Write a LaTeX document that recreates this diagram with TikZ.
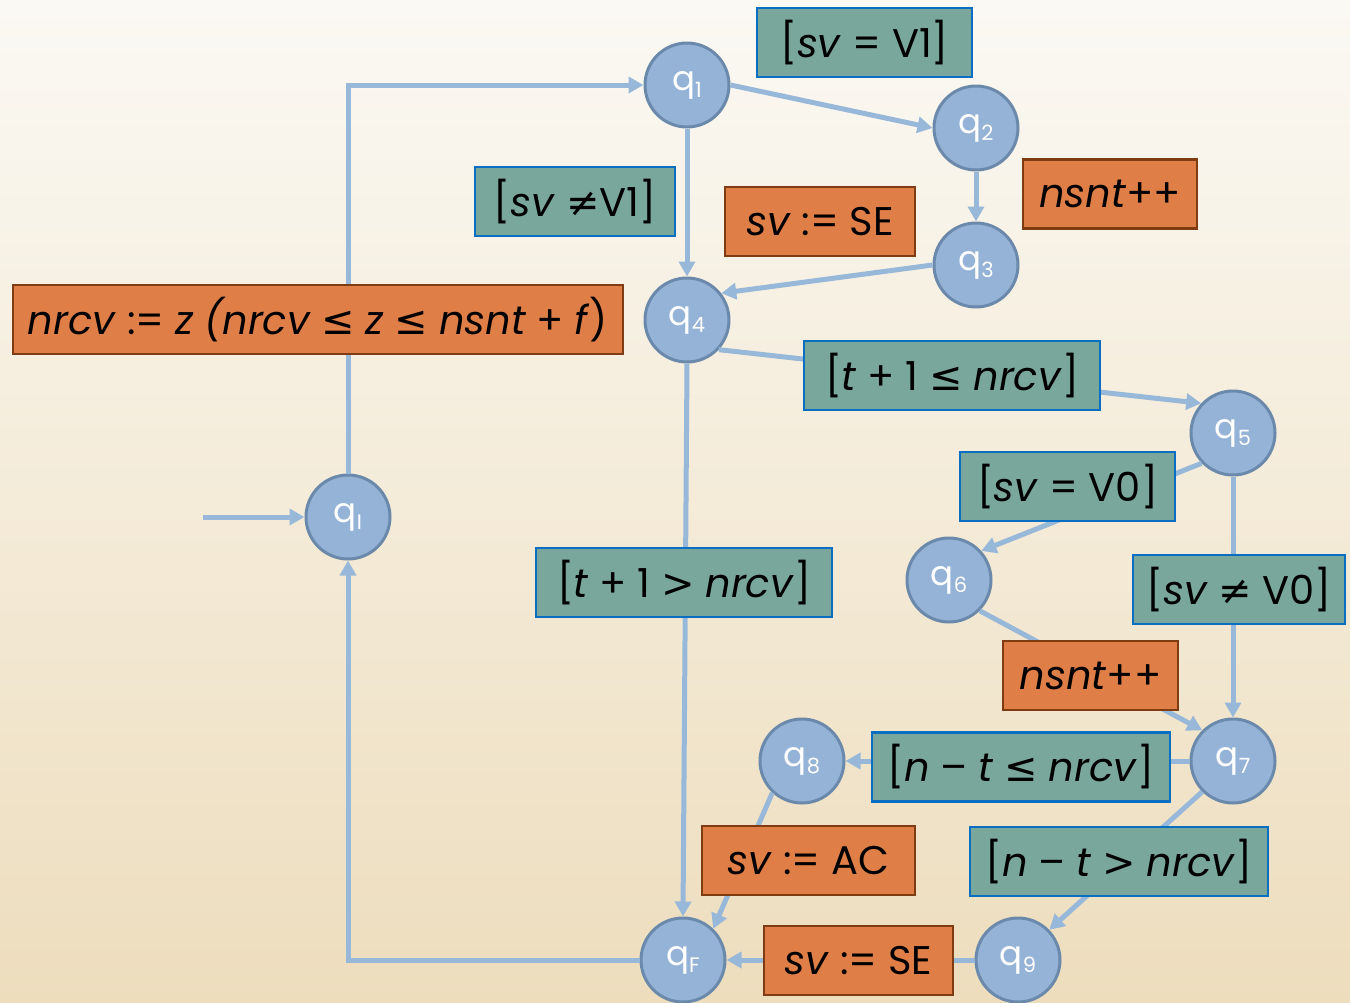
\documentclass[tikz,border=0pt]{standalone}
\usepackage{fontspec}
\setmainfont{Poppins}
\newfontfamily\symf{DejaVu Sans}
\usetikzlibrary{arrows.meta}
\definecolor{bgtop}{HTML}{FBF9F4}
\definecolor{bgbot}{HTML}{EDDDBD}
\definecolor{qfill}{HTML}{95B3D7}
\definecolor{qdraw}{HTML}{6A89AB}
\definecolor{edgec}{HTML}{98B8DA}
\definecolor{gfill}{HTML}{7AA79C}
\definecolor{gdraw}{HTML}{0A6FC2}
\definecolor{ofill}{HTML}{DF7F47}
\definecolor{odraw}{HTML}{7F3C12}
\newcommand\qlab[1]{q\raisebox{-0.4ex}{\fontsize{21}{21}\selectfont #1}}
\newcommand\qfont{\fontsize{34}{38}\selectfont}
\newcommand\boxfont{\fontsize{40}{46}\selectfont}
\tikzset{
  state/.style={circle, fill=qfill, draw=qdraw, line width=3pt, minimum size=84pt, inner sep=0pt, text=white, font=\qfont},
  guard/.style={fill=gfill, draw=gdraw, line width=2.5pt, minimum height=69pt, inner sep=0pt, font=\boxfont},
  act/.style={fill=ofill, draw=odraw, line width=2.5pt, minimum height=69pt, inner sep=0pt, font=\boxfont},
  tr/.style={draw=edgec, line width=5pt, -{Triangle[length=15pt,width=16pt]}}
}
\begin{document}
\begin{tikzpicture}[x=1pt,y=-1pt]
\shade[top color=bgtop, bottom color=bgbot] (0,0) rectangle (1350,1002);
\useasboundingbox (0,0) rectangle (1350,1002);
% states
\node[state] (q1) at (687,85) {\qlab{1}};
\node[state] (q2) at (976,128) {\qlab{2}};
\node[state] (q3) at (976,265) {\qlab{3}};
\node[state] (q4) at (687,320) {\qlab{4}};
\node[state] (q5) at (1233,433) {\qlab{5}};
\node[state] (q6) at (949,580) {\qlab{6}};
\node[state] (q7) at (1233,761) {\qlab{7}};
\node[state] (q8) at (802,761) {\qlab{8}};
\node[state] (q9) at (1018,960) {\qlab{9}};
\node[state] (qF) at (683,960) {\qlab{F}};
\node[state] (qI) at (348,517) {\qlab{I}};
\coordinate (start) at (203,517);
% transitions
\draw[tr] (start) -- (qI);
\draw[tr] (qI.north) |- (q1.west);
\draw[tr] (q1.east) -- (q2.west);
\draw[tr] (q1.south) -- (q4.north);
\draw[tr] (q2.south) -- (q3.north);
\draw[tr] (q3.west) -- (q4.38);
\draw[tr] (q4.-43) -- (q5.137);
\draw[tr] (q5.-136) -- (q6.42);
\draw[tr] (q5.south) -- (q7.north);
\draw[tr] (q6.-45) -- (q7.135);
\draw[tr] (q7.west) -- (q8.east);
\draw[tr] (q7.-135) -- (q9.44);
\draw[tr] (q8.-133) -- (qF.46);
\draw[tr] (q4.south) -- (qF.north);
\draw[tr] (q9.west) -- (qF.east);
\draw[tr] (qF.west) -| (qI.south);
% labels
\node[guard, minimum width=215pt] (gV1) at (864.5,42.5) {[\textit{sv} = V1]};
\node[guard, minimum width=200pt] (gNV1) at (575,201.5) {[\textit{sv} {\symf ≠}V1]};
\node[act, minimum width=190pt] (oSE1) at (820,221.5) {\textit{sv} := SE};
\node[act, minimum width=174pt] (oNS1) at (1110,194) {\textit{nsnt}++};
\node[act, minimum width=610pt] (oNR) at (318,319.5) {\textit{nrcv} := \textit{z} \textit{(nrcv} {\symf ≤} \textit{z} {\symf ≤} \textit{nsnt} + \textit{f})};
\node[guard, minimum width=296pt] (gT1) at (952,375.5) {[\textit{t} + 1 {\symf ≤} \textit{nrcv}]};
\node[guard, minimum width=215pt] (gV0) at (1067.5,486.5) {[\textit{sv} = V0]};
\node[guard, minimum width=212pt] (gNV0) at (1239,589.5) {[\textit{sv} {\symf ≠} V0]};
\node[guard, minimum width=296pt] (gT2) at (684,582.5) {[\textit{t} + 1 {\symf >} \textit{nrcv}]};
\node[act, minimum width=175pt] (oNS2) at (1090.5,675.5) {\textit{nsnt}++};
\node[guard, minimum width=298pt] (gNT1) at (1021,767) {[\textit{n} – \textit{t} {\symf ≤} \textit{nrcv}]};
\node[act, minimum width=213pt] (oAC) at (808.5,860.5) {\textit{sv} := AC};
\node[guard, minimum width=298pt] (gNT2) at (1119,861.5) {[\textit{n} – \textit{t} {\symf >} \textit{nrcv}]};
\node[act, minimum width=189pt] (oSE2) at (858.5,960.5) {\textit{sv} := SE};
\end{tikzpicture}
\end{document}
